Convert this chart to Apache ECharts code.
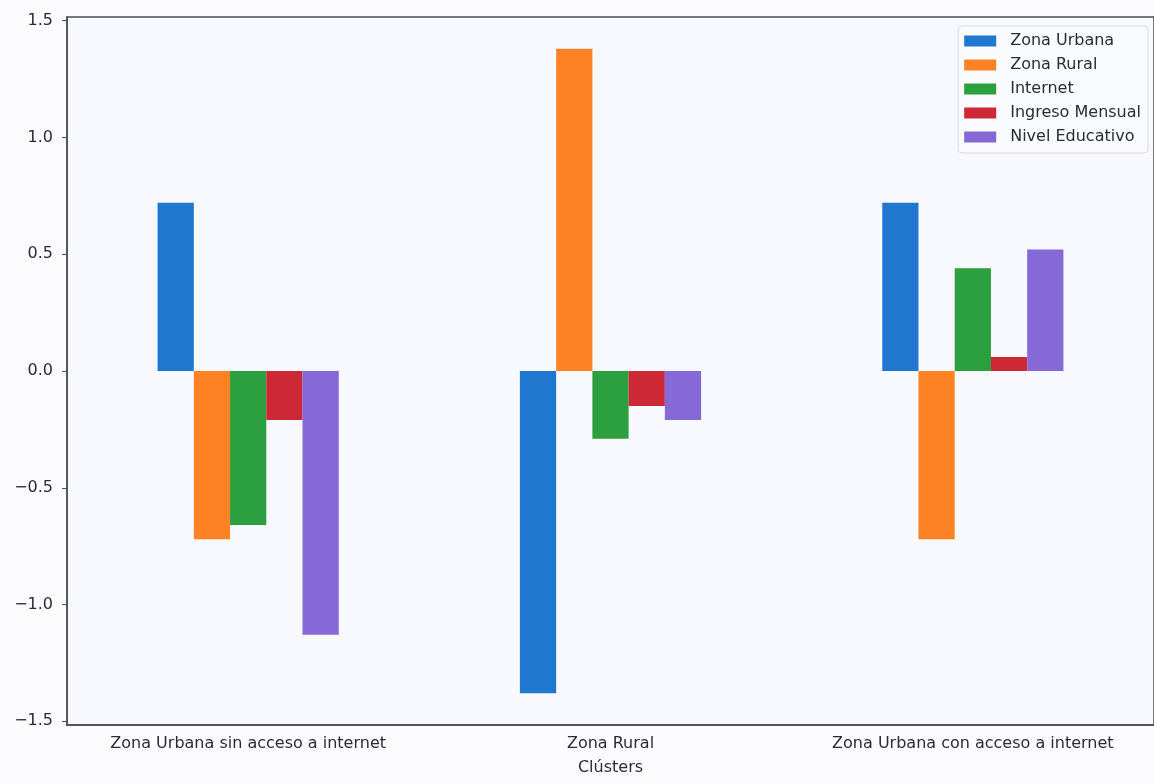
<!DOCTYPE html>
<html>
<head>
<meta charset="utf-8">
<script src="https://cdn.jsdelivr.net/npm/echarts@6/dist/echarts.min.js"></script>
<style>
html,body{margin:0;padding:0;background:#fcfcfe;}
#c{width:1154px;height:784px;}
</style>
</head>
<body>
<div id="c"></div>
<script>
const categories = ['Zona Urbana sin acceso a internet', 'Zona Rural', 'Zona Urbana con acceso a internet'];
const seriesNames = ['Zona Urbana', 'Zona Rural', 'Internet', 'Ingreso Mensual', 'Nivel Educativo'];
const zonaUrbana = [0.72, -1.38, 0.72];
const zonaRural = [-0.72, 1.38, -0.72];
const internet = [-0.66, -0.29, 0.44];
const ingresoMensual = [-0.21, -0.15, 0.06];
const nivelEducativo = [-1.13, -0.21, 0.52];
const yTicks = [-1.5, -1.0, -0.5, 0.0, 0.5, 1.0, 1.5];
const colors = ['#1f77d0', '#fc8224', '#2ca03e', '#cc2836', '#8569d6'];

const values = [zonaUrbana, zonaRural, internet, ingresoMensual, nivelEducativo];
const font = 'DejaVu Sans';
const axisColor = '#4a4c52';
const textColor = '#2a2c33';
const chart = echarts.init(document.getElementById('c'));
chart.setOption({
  animation: false,
  backgroundColor: '#fcfcfe',
  textStyle: {fontFamily: font},
  grid: {
    left: 67, top: 17, width: 1089, height: 708,
    show: true, backgroundColor: '#f7f9fe', borderColor: axisColor, borderWidth: 1.5
  },
  legend: {
    orient: 'vertical', right: 6, top: 26,
    icon: 'rect', itemWidth: 32, itemHeight: 11, itemGap: 8,
    padding: [7, 7, 8, 6],
    backgroundColor: 'rgba(250,251,254,0.9)', borderColor: '#d6dae2', borderWidth: 1, borderRadius: 4,
    textStyle: {fontFamily: font, fontSize: 16, color: textColor, padding: [0, 0, 0, 9]},
    data: seriesNames
  },
  xAxis: {
    type: 'category', data: categories,
    name: 'Clústers', nameLocation: 'middle', nameGap: 35,
    nameTextStyle: {fontFamily: font, fontSize: 16, color: textColor},
    axisLine: {onZero: false, lineStyle: {color: axisColor, width: 1.5}},
    axisTick: {alignWithLabel: true, length: 5, lineStyle: {color: axisColor}},
    axisLabel: {interval: 0, hideOverlap: false, fontFamily: font, fontSize: 16, color: textColor, margin: 11},
    splitLine: {show: false}
  },
  yAxis: {
    type: 'value', min: -1.516, max: 1.516,
    axisLine: {show: true, lineStyle: {color: axisColor, width: 1.5}},
    axisTick: {show: true, length: 5, customValues: yTicks, lineStyle: {color: axisColor}},
    axisLabel: {
      fontFamily: font, fontSize: 16, color: textColor, margin: 14,
      customValues: yTicks,
      formatter: v => v.toFixed(1).replace('-', '\u2212')
    },
    splitLine: {show: false}
  },
  series: seriesNames.map((n, i) => ({
    name: n, type: 'bar', data: values[i],
    barGap: '0%', barCategoryGap: '50%',
    itemStyle: {color: colors[i]}
  }))
});
</script>
</body>
</html>
